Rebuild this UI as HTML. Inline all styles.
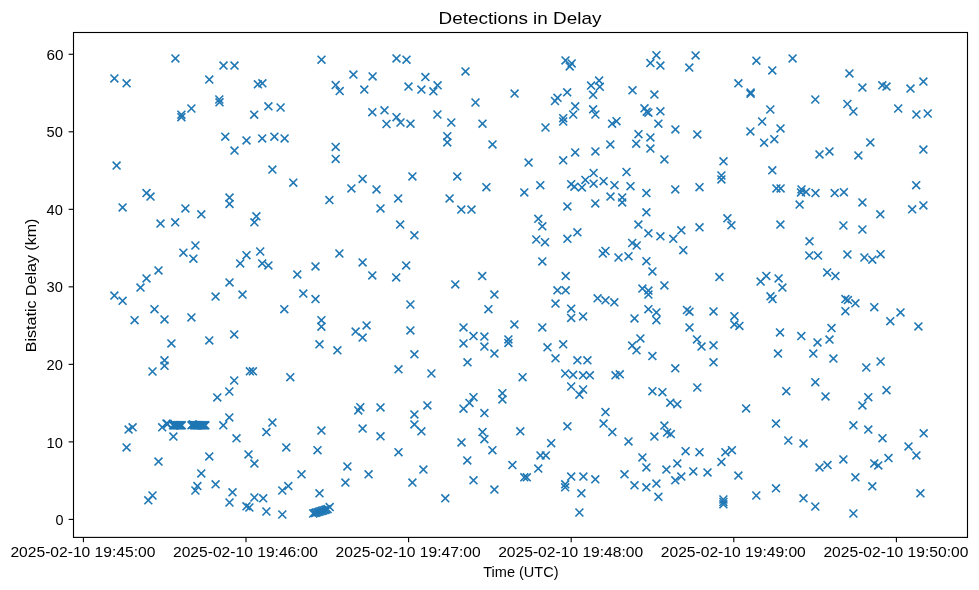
<!DOCTYPE html>
<html><head><meta charset="utf-8"><title>Detections in Delay</title>
<style>html,body{margin:0;padding:0;background:#fff;}svg{display:block;will-change:transform;}text{font-family:"Liberation Sans",sans-serif;fill:#000;}</style></head><body>
<svg width="979" height="590" viewBox="0 0 979 590">
<rect x="0" y="0" width="979" height="590" fill="#ffffff"/>
<defs><path id="m" d="M-3.95,-3.95L3.95,3.95M-3.95,3.95L3.95,-3.95" fill="none" stroke="#1f77b4" stroke-width="1.6" stroke-linecap="butt"/></defs>
<g>
<use href="#m" x="114.4" y="78.4"/>
<use href="#m" x="126.6" y="83.3"/>
<use href="#m" x="175.4" y="58.4"/>
<use href="#m" x="209.3" y="79.6"/>
<use href="#m" x="223.5" y="65.6"/>
<use href="#m" x="234.5" y="65.6"/>
<use href="#m" x="257.9" y="84.3"/>
<use href="#m" x="262.4" y="83.3"/>
<use href="#m" x="219.3" y="99.5"/>
<use href="#m" x="219.5" y="102.3"/>
<use href="#m" x="181.4" y="114.7"/>
<use href="#m" x="181.4" y="117.2"/>
<use href="#m" x="191.4" y="108.5"/>
<use href="#m" x="254.2" y="114.7"/>
<use href="#m" x="268.4" y="106.3"/>
<use href="#m" x="280.6" y="107.5"/>
<use href="#m" x="225.3" y="136.7"/>
<use href="#m" x="234.5" y="150.6"/>
<use href="#m" x="246.5" y="140.4"/>
<use href="#m" x="262.2" y="138.4"/>
<use href="#m" x="274.4" y="136.7"/>
<use href="#m" x="284.6" y="138.4"/>
<use href="#m" x="116.6" y="165.6"/>
<use href="#m" x="272.4" y="169.6"/>
<use href="#m" x="321.5" y="59.7"/>
<use href="#m" x="396.5" y="58.4"/>
<use href="#m" x="406.5" y="59.7"/>
<use href="#m" x="353.4" y="74.6"/>
<use href="#m" x="372.6" y="76.4"/>
<use href="#m" x="335.7" y="85.1"/>
<use href="#m" x="339.7" y="91.1"/>
<use href="#m" x="364.3" y="89.6"/>
<use href="#m" x="425.4" y="77.1"/>
<use href="#m" x="465.5" y="71.4"/>
<use href="#m" x="408.5" y="86.6"/>
<use href="#m" x="421.4" y="89.6"/>
<use href="#m" x="433.4" y="91.3"/>
<use href="#m" x="437.6" y="85.3"/>
<use href="#m" x="514.6" y="93.6"/>
<use href="#m" x="475.5" y="102.5"/>
<use href="#m" x="372.3" y="112.2"/>
<use href="#m" x="384.5" y="110.3"/>
<use href="#m" x="396.5" y="117.2"/>
<use href="#m" x="400.5" y="122.5"/>
<use href="#m" x="386.5" y="124.0"/>
<use href="#m" x="410.5" y="123.7"/>
<use href="#m" x="437.4" y="114.5"/>
<use href="#m" x="451.3" y="122.5"/>
<use href="#m" x="482.5" y="123.7"/>
<use href="#m" x="545.5" y="127.5"/>
<use href="#m" x="447.3" y="136.2"/>
<use href="#m" x="447.3" y="142.4"/>
<use href="#m" x="492.5" y="144.4"/>
<use href="#m" x="335.7" y="146.9"/>
<use href="#m" x="335.7" y="158.9"/>
<use href="#m" x="528.6" y="162.6"/>
<use href="#m" x="565.5" y="60.4"/>
<use href="#m" x="571.7" y="63.4"/>
<use href="#m" x="569.7" y="66.4"/>
<use href="#m" x="656.4" y="55.2"/>
<use href="#m" x="650.4" y="63.1"/>
<use href="#m" x="660.4" y="65.6"/>
<use href="#m" x="695.6" y="55.4"/>
<use href="#m" x="689.3" y="67.6"/>
<use href="#m" x="756.4" y="60.7"/>
<use href="#m" x="772.3" y="70.4"/>
<use href="#m" x="738.4" y="83.3"/>
<use href="#m" x="750.6" y="92.6"/>
<use href="#m" x="750.6" y="93.8"/>
<use href="#m" x="599.1" y="80.6"/>
<use href="#m" x="591.1" y="85.6"/>
<use href="#m" x="599.8" y="86.8"/>
<use href="#m" x="593.1" y="94.8"/>
<use href="#m" x="567.2" y="92.3"/>
<use href="#m" x="557.5" y="97.8"/>
<use href="#m" x="555.0" y="101.0"/>
<use href="#m" x="632.5" y="90.3"/>
<use href="#m" x="654.4" y="94.6"/>
<use href="#m" x="575.2" y="106.3"/>
<use href="#m" x="573.2" y="114.5"/>
<use href="#m" x="593.1" y="109.3"/>
<use href="#m" x="595.4" y="114.5"/>
<use href="#m" x="563.2" y="118.2"/>
<use href="#m" x="563.2" y="121.5"/>
<use href="#m" x="644.5" y="108.3"/>
<use href="#m" x="646.7" y="111.7"/>
<use href="#m" x="648.4" y="112.7"/>
<use href="#m" x="660.4" y="111.3"/>
<use href="#m" x="658.4" y="123.7"/>
<use href="#m" x="612.1" y="123.7"/>
<use href="#m" x="616.5" y="121.2"/>
<use href="#m" x="770.3" y="109.5"/>
<use href="#m" x="762.1" y="121.5"/>
<use href="#m" x="780.5" y="128.4"/>
<use href="#m" x="750.4" y="131.4"/>
<use href="#m" x="774.3" y="139.2"/>
<use href="#m" x="764.1" y="142.7"/>
<use href="#m" x="675.4" y="129.4"/>
<use href="#m" x="697.3" y="134.4"/>
<use href="#m" x="638.5" y="134.2"/>
<use href="#m" x="650.4" y="137.4"/>
<use href="#m" x="636.2" y="143.7"/>
<use href="#m" x="650.4" y="148.6"/>
<use href="#m" x="610.3" y="144.4"/>
<use href="#m" x="595.4" y="151.4"/>
<use href="#m" x="575.2" y="152.4"/>
<use href="#m" x="563.2" y="160.3"/>
<use href="#m" x="664.4" y="159.4"/>
<use href="#m" x="723.5" y="161.3"/>
<use href="#m" x="772.3" y="170.3"/>
<use href="#m" x="792.6" y="58.4"/>
<use href="#m" x="815.3" y="99.5"/>
<use href="#m" x="849.4" y="73.4"/>
<use href="#m" x="862.4" y="87.6"/>
<use href="#m" x="882.3" y="85.3"/>
<use href="#m" x="886.5" y="86.6"/>
<use href="#m" x="910.5" y="88.6"/>
<use href="#m" x="923.4" y="81.6"/>
<use href="#m" x="847.4" y="104.0"/>
<use href="#m" x="853.4" y="111.5"/>
<use href="#m" x="898.2" y="108.5"/>
<use href="#m" x="916.4" y="114.5"/>
<use href="#m" x="927.7" y="113.5"/>
<use href="#m" x="870.3" y="142.4"/>
<use href="#m" x="829.5" y="151.4"/>
<use href="#m" x="819.5" y="154.4"/>
<use href="#m" x="858.4" y="155.4"/>
<use href="#m" x="923.4" y="149.6"/>
<use href="#m" x="293.3" y="182.7"/>
<use href="#m" x="146.5" y="193.1"/>
<use href="#m" x="150.5" y="196.6"/>
<use href="#m" x="122.6" y="207.4"/>
<use href="#m" x="185.4" y="208.4"/>
<use href="#m" x="201.3" y="214.3"/>
<use href="#m" x="229.5" y="197.6"/>
<use href="#m" x="229.5" y="203.9"/>
<use href="#m" x="160.5" y="223.6"/>
<use href="#m" x="175.2" y="222.3"/>
<use href="#m" x="256.4" y="216.3"/>
<use href="#m" x="254.4" y="222.3"/>
<use href="#m" x="195.4" y="245.5"/>
<use href="#m" x="183.4" y="252.7"/>
<use href="#m" x="193.4" y="258.7"/>
<use href="#m" x="260.2" y="251.5"/>
<use href="#m" x="246.5" y="255.2"/>
<use href="#m" x="240.2" y="263.4"/>
<use href="#m" x="262.2" y="263.4"/>
<use href="#m" x="268.4" y="265.4"/>
<use href="#m" x="158.5" y="270.4"/>
<use href="#m" x="146.5" y="278.4"/>
<use href="#m" x="140.5" y="287.6"/>
<use href="#m" x="114.4" y="295.6"/>
<use href="#m" x="122.6" y="300.8"/>
<use href="#m" x="229.5" y="282.4"/>
<use href="#m" x="215.6" y="296.6"/>
<use href="#m" x="242.5" y="294.6"/>
<use href="#m" x="297.3" y="274.4"/>
<use href="#m" x="303.3" y="293.6"/>
<use href="#m" x="362.6" y="178.9"/>
<use href="#m" x="412.4" y="176.4"/>
<use href="#m" x="457.3" y="176.4"/>
<use href="#m" x="351.4" y="188.4"/>
<use href="#m" x="376.5" y="189.4"/>
<use href="#m" x="329.4" y="200.1"/>
<use href="#m" x="398.2" y="198.4"/>
<use href="#m" x="380.5" y="208.4"/>
<use href="#m" x="400.2" y="224.6"/>
<use href="#m" x="414.4" y="235.3"/>
<use href="#m" x="486.4" y="187.2"/>
<use href="#m" x="449.6" y="198.4"/>
<use href="#m" x="461.3" y="209.6"/>
<use href="#m" x="471.5" y="209.6"/>
<use href="#m" x="524.3" y="192.4"/>
<use href="#m" x="540.3" y="185.2"/>
<use href="#m" x="538.3" y="218.8"/>
<use href="#m" x="542.3" y="226.3"/>
<use href="#m" x="536.3" y="239.5"/>
<use href="#m" x="545.0" y="242.2"/>
<use href="#m" x="542.3" y="261.4"/>
<use href="#m" x="339.4" y="253.5"/>
<use href="#m" x="362.6" y="262.4"/>
<use href="#m" x="315.5" y="266.4"/>
<use href="#m" x="372.3" y="275.4"/>
<use href="#m" x="406.2" y="265.4"/>
<use href="#m" x="396.2" y="277.4"/>
<use href="#m" x="455.3" y="284.4"/>
<use href="#m" x="482.2" y="276.1"/>
<use href="#m" x="494.4" y="294.6"/>
<use href="#m" x="315.5" y="299.1"/>
<use href="#m" x="593.6" y="173.0"/>
<use href="#m" x="585.4" y="179.9"/>
<use href="#m" x="593.6" y="183.7"/>
<use href="#m" x="603.6" y="181.2"/>
<use href="#m" x="571.2" y="184.2"/>
<use href="#m" x="574.4" y="186.7"/>
<use href="#m" x="581.9" y="187.4"/>
<use href="#m" x="614.5" y="185.2"/>
<use href="#m" x="626.5" y="172.0"/>
<use href="#m" x="630.5" y="186.2"/>
<use href="#m" x="610.5" y="196.6"/>
<use href="#m" x="622.2" y="197.4"/>
<use href="#m" x="622.2" y="202.4"/>
<use href="#m" x="595.3" y="203.4"/>
<use href="#m" x="567.4" y="206.4"/>
<use href="#m" x="646.4" y="193.1"/>
<use href="#m" x="646.4" y="212.3"/>
<use href="#m" x="675.3" y="189.4"/>
<use href="#m" x="699.5" y="187.2"/>
<use href="#m" x="721.4" y="175.5"/>
<use href="#m" x="721.4" y="179.4"/>
<use href="#m" x="727.4" y="218.3"/>
<use href="#m" x="731.4" y="225.3"/>
<use href="#m" x="638.4" y="224.6"/>
<use href="#m" x="648.4" y="233.3"/>
<use href="#m" x="660.4" y="236.3"/>
<use href="#m" x="673.3" y="238.8"/>
<use href="#m" x="681.3" y="230.3"/>
<use href="#m" x="699.5" y="227.3"/>
<use href="#m" x="683.3" y="250.2"/>
<use href="#m" x="577.4" y="232.3"/>
<use href="#m" x="567.4" y="238.8"/>
<use href="#m" x="632.2" y="243.0"/>
<use href="#m" x="636.7" y="245.5"/>
<use href="#m" x="602.8" y="253.5"/>
<use href="#m" x="605.5" y="251.0"/>
<use href="#m" x="618.5" y="257.5"/>
<use href="#m" x="628.5" y="256.2"/>
<use href="#m" x="646.4" y="261.2"/>
<use href="#m" x="652.4" y="271.4"/>
<use href="#m" x="565.7" y="276.1"/>
<use href="#m" x="557.4" y="290.3"/>
<use href="#m" x="565.7" y="290.3"/>
<use href="#m" x="664.4" y="285.4"/>
<use href="#m" x="642.4" y="288.6"/>
<use href="#m" x="648.4" y="290.6"/>
<use href="#m" x="648.4" y="294.6"/>
<use href="#m" x="597.6" y="298.3"/>
<use href="#m" x="605.5" y="300.3"/>
<use href="#m" x="614.3" y="302.3"/>
<use href="#m" x="555.5" y="303.6"/>
<use href="#m" x="719.4" y="277.1"/>
<use href="#m" x="760.6" y="281.6"/>
<use href="#m" x="766.3" y="275.9"/>
<use href="#m" x="770.5" y="296.3"/>
<use href="#m" x="772.5" y="299.1"/>
<use href="#m" x="778.6" y="278.4"/>
<use href="#m" x="782.4" y="287.6"/>
<use href="#m" x="776.4" y="188.4"/>
<use href="#m" x="780.6" y="188.4"/>
<use href="#m" x="780.4" y="224.6"/>
<use href="#m" x="801.5" y="189.4"/>
<use href="#m" x="801.0" y="192.4"/>
<use href="#m" x="806.0" y="191.9"/>
<use href="#m" x="815.5" y="193.1"/>
<use href="#m" x="799.6" y="204.6"/>
<use href="#m" x="834.7" y="193.1"/>
<use href="#m" x="843.9" y="192.2"/>
<use href="#m" x="862.4" y="202.4"/>
<use href="#m" x="880.3" y="214.3"/>
<use href="#m" x="916.2" y="185.2"/>
<use href="#m" x="912.2" y="209.3"/>
<use href="#m" x="923.4" y="205.4"/>
<use href="#m" x="843.4" y="225.5"/>
<use href="#m" x="862.4" y="229.5"/>
<use href="#m" x="809.5" y="241.3"/>
<use href="#m" x="809.3" y="255.5"/>
<use href="#m" x="818.0" y="255.5"/>
<use href="#m" x="847.4" y="254.5"/>
<use href="#m" x="864.4" y="257.5"/>
<use href="#m" x="872.3" y="259.7"/>
<use href="#m" x="880.6" y="254.2"/>
<use href="#m" x="827.2" y="272.4"/>
<use href="#m" x="835.4" y="276.1"/>
<use href="#m" x="845.4" y="299.1"/>
<use href="#m" x="847.9" y="300.1"/>
<use href="#m" x="855.4" y="303.3"/>
<use href="#m" x="154.5" y="309.2"/>
<use href="#m" x="284.3" y="309.2"/>
<use href="#m" x="134.6" y="320.2"/>
<use href="#m" x="164.5" y="319.4"/>
<use href="#m" x="191.4" y="317.4"/>
<use href="#m" x="171.4" y="343.4"/>
<use href="#m" x="209.3" y="340.4"/>
<use href="#m" x="234.2" y="334.4"/>
<use href="#m" x="164.5" y="360.3"/>
<use href="#m" x="164.5" y="365.8"/>
<use href="#m" x="152.5" y="371.5"/>
<use href="#m" x="249.9" y="371.3"/>
<use href="#m" x="252.9" y="371.3"/>
<use href="#m" x="290.3" y="377.2"/>
<use href="#m" x="234.2" y="380.5"/>
<use href="#m" x="229.3" y="391.5"/>
<use href="#m" x="217.3" y="397.4"/>
<use href="#m" x="229.3" y="417.4"/>
<use href="#m" x="223.3" y="425.3"/>
<use href="#m" x="272.4" y="422.6"/>
<use href="#m" x="266.4" y="432.1"/>
<use href="#m" x="236.5" y="438.3"/>
<use href="#m" x="173.4" y="436.6"/>
<use href="#m" x="128.6" y="429.6"/>
<use href="#m" x="132.6" y="427.3"/>
<use href="#m" x="162.2" y="427.3"/>
<use href="#m" x="166.5" y="423.6"/>
<use href="#m" x="410.4" y="304.5"/>
<use href="#m" x="488.4" y="309.2"/>
<use href="#m" x="321.4" y="320.2"/>
<use href="#m" x="321.4" y="326.7"/>
<use href="#m" x="319.5" y="344.3"/>
<use href="#m" x="337.4" y="350.3"/>
<use href="#m" x="355.6" y="331.6"/>
<use href="#m" x="366.6" y="325.4"/>
<use href="#m" x="362.6" y="337.6"/>
<use href="#m" x="410.4" y="330.4"/>
<use href="#m" x="414.4" y="354.3"/>
<use href="#m" x="398.5" y="369.3"/>
<use href="#m" x="431.4" y="373.5"/>
<use href="#m" x="463.5" y="327.4"/>
<use href="#m" x="473.5" y="336.1"/>
<use href="#m" x="463.5" y="343.4"/>
<use href="#m" x="484.4" y="336.6"/>
<use href="#m" x="484.4" y="346.6"/>
<use href="#m" x="494.4" y="353.6"/>
<use href="#m" x="467.5" y="362.3"/>
<use href="#m" x="514.4" y="324.4"/>
<use href="#m" x="508.4" y="339.4"/>
<use href="#m" x="508.4" y="342.9"/>
<use href="#m" x="542.3" y="327.4"/>
<use href="#m" x="522.6" y="377.2"/>
<use href="#m" x="502.4" y="393.2"/>
<use href="#m" x="502.4" y="399.4"/>
<use href="#m" x="473.5" y="397.2"/>
<use href="#m" x="469.5" y="402.9"/>
<use href="#m" x="463.5" y="408.7"/>
<use href="#m" x="484.4" y="413.1"/>
<use href="#m" x="427.4" y="405.4"/>
<use href="#m" x="414.4" y="414.4"/>
<use href="#m" x="414.4" y="424.4"/>
<use href="#m" x="421.4" y="431.3"/>
<use href="#m" x="380.5" y="407.4"/>
<use href="#m" x="360.3" y="407.2"/>
<use href="#m" x="358.3" y="410.4"/>
<use href="#m" x="362.6" y="428.6"/>
<use href="#m" x="380.5" y="436.3"/>
<use href="#m" x="321.4" y="430.6"/>
<use href="#m" x="482.5" y="432.1"/>
<use href="#m" x="520.3" y="431.3"/>
<use href="#m" x="571.2" y="308.7"/>
<use href="#m" x="571.2" y="317.9"/>
<use href="#m" x="583.1" y="316.4"/>
<use href="#m" x="648.4" y="309.2"/>
<use href="#m" x="656.4" y="312.4"/>
<use href="#m" x="656.4" y="320.2"/>
<use href="#m" x="634.5" y="318.4"/>
<use href="#m" x="687.0" y="310.0"/>
<use href="#m" x="689.5" y="311.7"/>
<use href="#m" x="713.5" y="311.4"/>
<use href="#m" x="689.5" y="327.4"/>
<use href="#m" x="734.4" y="316.2"/>
<use href="#m" x="734.4" y="324.4"/>
<use href="#m" x="739.4" y="325.9"/>
<use href="#m" x="780.0" y="332.4"/>
<use href="#m" x="778.0" y="353.6"/>
<use href="#m" x="547.5" y="347.3"/>
<use href="#m" x="563.2" y="344.3"/>
<use href="#m" x="555.5" y="358.3"/>
<use href="#m" x="640.4" y="338.4"/>
<use href="#m" x="632.2" y="345.6"/>
<use href="#m" x="636.5" y="350.3"/>
<use href="#m" x="652.4" y="356.1"/>
<use href="#m" x="697.0" y="339.4"/>
<use href="#m" x="701.5" y="346.6"/>
<use href="#m" x="713.5" y="345.3"/>
<use href="#m" x="713.5" y="362.3"/>
<use href="#m" x="675.3" y="368.3"/>
<use href="#m" x="577.4" y="360.3"/>
<use href="#m" x="587.4" y="360.3"/>
<use href="#m" x="565.2" y="373.5"/>
<use href="#m" x="573.1" y="374.8"/>
<use href="#m" x="583.1" y="375.3"/>
<use href="#m" x="589.8" y="375.3"/>
<use href="#m" x="615.5" y="375.3"/>
<use href="#m" x="619.8" y="374.3"/>
<use href="#m" x="571.2" y="386.5"/>
<use href="#m" x="583.1" y="389.5"/>
<use href="#m" x="579.4" y="394.7"/>
<use href="#m" x="697.3" y="387.5"/>
<use href="#m" x="652.4" y="391.2"/>
<use href="#m" x="662.4" y="392.2"/>
<use href="#m" x="670.3" y="402.7"/>
<use href="#m" x="677.3" y="404.2"/>
<use href="#m" x="605.5" y="412.1"/>
<use href="#m" x="603.6" y="423.6"/>
<use href="#m" x="612.3" y="432.1"/>
<use href="#m" x="567.4" y="426.3"/>
<use href="#m" x="746.1" y="408.4"/>
<use href="#m" x="776.0" y="423.6"/>
<use href="#m" x="664.4" y="425.6"/>
<use href="#m" x="667.1" y="432.6"/>
<use href="#m" x="670.8" y="434.1"/>
<use href="#m" x="654.4" y="436.6"/>
<use href="#m" x="786.3" y="391.2"/>
<use href="#m" x="874.3" y="307.2"/>
<use href="#m" x="845.4" y="311.2"/>
<use href="#m" x="900.5" y="312.4"/>
<use href="#m" x="890.3" y="321.2"/>
<use href="#m" x="918.4" y="326.4"/>
<use href="#m" x="831.5" y="328.1"/>
<use href="#m" x="801.3" y="336.1"/>
<use href="#m" x="829.5" y="339.6"/>
<use href="#m" x="817.5" y="342.4"/>
<use href="#m" x="813.3" y="353.6"/>
<use href="#m" x="833.4" y="358.6"/>
<use href="#m" x="880.6" y="361.5"/>
<use href="#m" x="866.3" y="367.5"/>
<use href="#m" x="815.3" y="382.2"/>
<use href="#m" x="825.5" y="396.4"/>
<use href="#m" x="886.5" y="390.2"/>
<use href="#m" x="868.3" y="397.2"/>
<use href="#m" x="862.4" y="405.4"/>
<use href="#m" x="853.4" y="425.3"/>
<use href="#m" x="868.3" y="429.6"/>
<use href="#m" x="923.7" y="433.3"/>
<use href="#m" x="126.6" y="447.4"/>
<use href="#m" x="286.3" y="447.4"/>
<use href="#m" x="158.5" y="461.6"/>
<use href="#m" x="209.3" y="456.4"/>
<use href="#m" x="248.5" y="454.4"/>
<use href="#m" x="254.4" y="463.6"/>
<use href="#m" x="201.3" y="473.4"/>
<use href="#m" x="301.5" y="474.3"/>
<use href="#m" x="197.4" y="486.1"/>
<use href="#m" x="195.4" y="490.5"/>
<use href="#m" x="215.6" y="484.3"/>
<use href="#m" x="232.5" y="492.3"/>
<use href="#m" x="288.3" y="486.1"/>
<use href="#m" x="282.3" y="490.5"/>
<use href="#m" x="152.5" y="495.5"/>
<use href="#m" x="148.3" y="500.3"/>
<use href="#m" x="229.5" y="502.5"/>
<use href="#m" x="254.4" y="497.5"/>
<use href="#m" x="263.2" y="498.3"/>
<use href="#m" x="246.5" y="506.3"/>
<use href="#m" x="249.4" y="507.5"/>
<use href="#m" x="266.4" y="511.5"/>
<use href="#m" x="282.3" y="514.5"/>
<use href="#m" x="484.4" y="439.2"/>
<use href="#m" x="461.5" y="442.4"/>
<use href="#m" x="317.5" y="450.2"/>
<use href="#m" x="398.5" y="452.2"/>
<use href="#m" x="492.4" y="450.2"/>
<use href="#m" x="467.3" y="460.4"/>
<use href="#m" x="512.4" y="465.1"/>
<use href="#m" x="540.5" y="455.4"/>
<use href="#m" x="545.8" y="455.4"/>
<use href="#m" x="538.3" y="468.6"/>
<use href="#m" x="347.4" y="466.4"/>
<use href="#m" x="368.6" y="474.3"/>
<use href="#m" x="345.4" y="482.6"/>
<use href="#m" x="423.4" y="469.6"/>
<use href="#m" x="412.4" y="482.6"/>
<use href="#m" x="473.5" y="480.3"/>
<use href="#m" x="524.3" y="477.3"/>
<use href="#m" x="526.8" y="477.3"/>
<use href="#m" x="494.4" y="489.6"/>
<use href="#m" x="319.5" y="493.3"/>
<use href="#m" x="445.3" y="498.3"/>
<use href="#m" x="628.5" y="441.4"/>
<use href="#m" x="551.2" y="443.2"/>
<use href="#m" x="642.4" y="457.4"/>
<use href="#m" x="646.4" y="467.4"/>
<use href="#m" x="685.6" y="451.2"/>
<use href="#m" x="699.5" y="452.2"/>
<use href="#m" x="677.3" y="463.4"/>
<use href="#m" x="666.4" y="469.6"/>
<use href="#m" x="693.3" y="471.4"/>
<use href="#m" x="707.5" y="472.4"/>
<use href="#m" x="681.3" y="476.6"/>
<use href="#m" x="675.3" y="480.3"/>
<use href="#m" x="656.4" y="483.6"/>
<use href="#m" x="646.4" y="487.3"/>
<use href="#m" x="634.5" y="485.3"/>
<use href="#m" x="624.5" y="474.3"/>
<use href="#m" x="658.4" y="496.8"/>
<use href="#m" x="571.2" y="476.6"/>
<use href="#m" x="583.4" y="476.6"/>
<use href="#m" x="595.3" y="479.3"/>
<use href="#m" x="565.2" y="484.3"/>
<use href="#m" x="565.2" y="487.3"/>
<use href="#m" x="581.4" y="493.3"/>
<use href="#m" x="579.4" y="512.5"/>
<use href="#m" x="721.4" y="461.9"/>
<use href="#m" x="725.4" y="452.2"/>
<use href="#m" x="731.9" y="450.2"/>
<use href="#m" x="738.4" y="475.6"/>
<use href="#m" x="723.4" y="499.5"/>
<use href="#m" x="723.4" y="502.0"/>
<use href="#m" x="723.4" y="504.3"/>
<use href="#m" x="756.3" y="495.5"/>
<use href="#m" x="776.0" y="488.3"/>
<use href="#m" x="788.3" y="440.5"/>
<use href="#m" x="803.5" y="443.4"/>
<use href="#m" x="882.5" y="438.2"/>
<use href="#m" x="908.5" y="446.4"/>
<use href="#m" x="916.4" y="455.4"/>
<use href="#m" x="888.5" y="458.1"/>
<use href="#m" x="874.3" y="463.4"/>
<use href="#m" x="878.3" y="465.4"/>
<use href="#m" x="843.4" y="459.4"/>
<use href="#m" x="827.5" y="465.1"/>
<use href="#m" x="819.5" y="467.4"/>
<use href="#m" x="855.4" y="477.3"/>
<use href="#m" x="872.3" y="486.3"/>
<use href="#m" x="920.4" y="493.3"/>
<use href="#m" x="803.5" y="498.3"/>
<use href="#m" x="815.3" y="506.5"/>
<use href="#m" x="853.4" y="513.5"/>
<use href="#m" x="173.1" y="425.3"/>
<use href="#m" x="174.0" y="425.3"/>
<use href="#m" x="174.8" y="425.3"/>
<use href="#m" x="175.7" y="425.3"/>
<use href="#m" x="176.6" y="425.3"/>
<use href="#m" x="177.5" y="425.3"/>
<use href="#m" x="178.3" y="425.3"/>
<use href="#m" x="179.2" y="425.3"/>
<use href="#m" x="180.1" y="425.3"/>
<use href="#m" x="180.9" y="425.3"/>
<use href="#m" x="181.8" y="425.3"/>
<use href="#m" x="191.5" y="425.3"/>
<use href="#m" x="192.4" y="424.6"/>
<use href="#m" x="193.2" y="424.6"/>
<use href="#m" x="194.1" y="425.3"/>
<use href="#m" x="195.0" y="425.3"/>
<use href="#m" x="195.9" y="425.3"/>
<use href="#m" x="196.7" y="425.3"/>
<use href="#m" x="197.6" y="425.3"/>
<use href="#m" x="198.5" y="425.3"/>
<use href="#m" x="199.3" y="425.3"/>
<use href="#m" x="200.2" y="425.3"/>
<use href="#m" x="201.1" y="425.3"/>
<use href="#m" x="201.9" y="425.3"/>
<use href="#m" x="202.8" y="425.3"/>
<use href="#m" x="203.7" y="425.3"/>
<use href="#m" x="204.6" y="425.3"/>
<use href="#m" x="205.4" y="425.3"/>
<use href="#m" x="313.2" y="513.5"/>
<use href="#m" x="314.64" y="513.06"/>
<use href="#m" x="316.08" y="512.62"/>
<use href="#m" x="317.52" y="512.18"/>
<use href="#m" x="318.96" y="511.74"/>
<use href="#m" x="320.4" y="511.3"/>
<use href="#m" x="321.84" y="510.86"/>
<use href="#m" x="323.28" y="510.42"/>
<use href="#m" x="324.72" y="509.98"/>
<use href="#m" x="326.16" y="509.54"/>
<use href="#m" x="327.6" y="509.1"/>
<use href="#m" x="329.7" y="507.1"/>
<use href="#m" x="167.7" y="424.0"/>
</g>
<rect x="73.5" y="32.5" width="894.0" height="504.9" fill="none" stroke="#000" stroke-width="1.11" stroke-linejoin="miter"/>
<g stroke="#000" stroke-width="1.11">
<line x1="68.64" y1="519.40" x2="73.5" y2="519.40"/>
<line x1="68.64" y1="441.88" x2="73.5" y2="441.88"/>
<line x1="68.64" y1="364.36" x2="73.5" y2="364.36"/>
<line x1="68.64" y1="286.84" x2="73.5" y2="286.84"/>
<line x1="68.64" y1="209.32" x2="73.5" y2="209.32"/>
<line x1="68.64" y1="131.80" x2="73.5" y2="131.80"/>
<line x1="68.64" y1="54.28" x2="73.5" y2="54.28"/>
<line x1="83.40" y1="537.4" x2="83.40" y2="542.26"/>
<line x1="246.00" y1="537.4" x2="246.00" y2="542.26"/>
<line x1="408.60" y1="537.4" x2="408.60" y2="542.26"/>
<line x1="571.20" y1="537.4" x2="571.20" y2="542.26"/>
<line x1="733.80" y1="537.4" x2="733.80" y2="542.26"/>
<line x1="896.40" y1="537.4" x2="896.40" y2="542.26"/>
</g>
<g font-size="14.1">
<text x="55.5" y="525.0" textLength="8.0" lengthAdjust="spacingAndGlyphs">0</text>
<text x="46.5" y="447.5" textLength="16.3" lengthAdjust="spacingAndGlyphs">10</text>
<text x="46.5" y="370.0" textLength="16.3" lengthAdjust="spacingAndGlyphs">20</text>
<text x="46.5" y="292.4" textLength="16.3" lengthAdjust="spacingAndGlyphs">30</text>
<text x="46.5" y="214.9" textLength="16.3" lengthAdjust="spacingAndGlyphs">40</text>
<text x="46.5" y="137.4" textLength="16.3" lengthAdjust="spacingAndGlyphs">50</text>
<text x="46.6" y="59.9" textLength="17.0" lengthAdjust="spacingAndGlyphs">60</text>
<text x="10.4" y="557.2" textLength="145" lengthAdjust="spacingAndGlyphs">2025-02-10 19:45:00</text>
<text x="173.0" y="557.2" textLength="145" lengthAdjust="spacingAndGlyphs">2025-02-10 19:46:00</text>
<text x="335.6" y="557.2" textLength="145" lengthAdjust="spacingAndGlyphs">2025-02-10 19:47:00</text>
<text x="498.2" y="557.2" textLength="145" lengthAdjust="spacingAndGlyphs">2025-02-10 19:48:00</text>
<text x="660.8" y="557.2" textLength="145" lengthAdjust="spacingAndGlyphs">2025-02-10 19:49:00</text>
<text x="823.4" y="557.2" textLength="145" lengthAdjust="spacingAndGlyphs">2025-02-10 19:50:00</text>
</g>
<text x="483.3" y="576.9" font-size="14.1" textLength="75.2" lengthAdjust="spacingAndGlyphs">Time (UTC)</text>
<text transform="translate(35.7,352.2) rotate(-90)" font-size="14" textLength="133.6" lengthAdjust="spacingAndGlyphs">Bistatic Delay (km)</text>
<text x="438.6" y="23.8" font-size="17" textLength="162.8" lengthAdjust="spacingAndGlyphs">Detections in Delay</text>
</svg></body></html>
